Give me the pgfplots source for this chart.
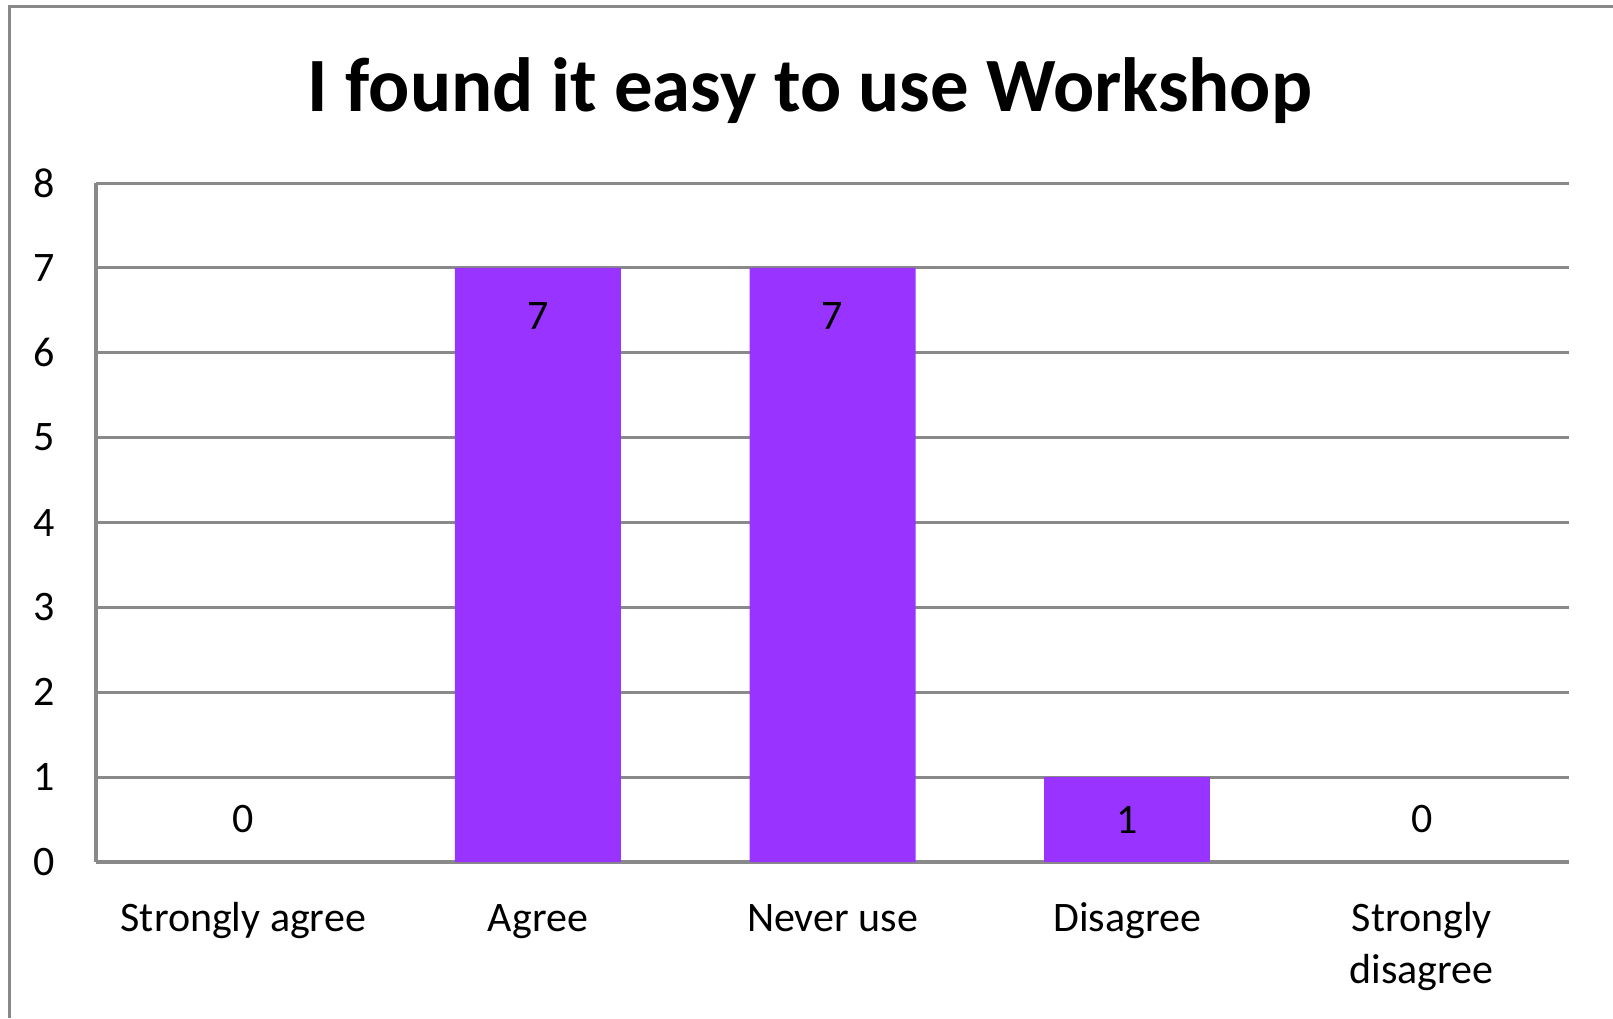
\documentclass[border=0pt]{standalone}
\usepackage{fontspec}
\setmainfont{Carlito}
\usepackage{pgfplots}
\pgfplotsset{compat=1.18}
\definecolor{gridgray}{RGB}{137,137,137}
\definecolor{barpurple}{RGB}{153,51,255}
\begin{document}
\begin{tikzpicture}
\path[use as bounding box] (0,0) rectangle (403.25pt,-254.5pt);
\draw[gridgray, line width=0.75pt] (2.25pt,-254.5pt) -- (2.25pt,-1.5pt) -- (403.25pt,-1.5pt);
\node[anchor=base, inner sep=0pt, font=\fontsize{19.2}{23}\selectfont\bfseries] at (202.5pt,-27.75pt) {I found it easy to use Workshop};
\begin{axis}[
  at={(24pt,-215.5pt)}, anchor=south west,
  scale only axis, width=368.25pt, height=169.75pt,
  xmin=-0.5, xmax=4.5, ymin=0, ymax=8,
  ytick={0,...,8}, xtick={0,...,4},
  xticklabels={Strongly agree, Agree, Never use, Disagree, {\begin{tabular}[t]{@{}c@{}}Strongly\\disagree\end{tabular}}},
  axis x line*=bottom, axis y line*=left,
  axis line style={gridgray, line width=0.85pt, -},
  ymajorgrids, grid style={gridgray, line width=0.75pt},
  major tick length=0pt,
  /pgf/number format/assume math mode=true,
  ticklabel style={font=\fontsize{10.5}{13}\selectfont, text=black},
  yticklabel style={anchor=center, xshift=-13pt},
  xticklabel style={anchor=base, yshift=-17.25pt},
  clip=false,
]
\addplot[ybar, bar width=41.5pt, bar shift=0pt, fill=barpurple, draw=none,
  nodes near coords,
  nodes near coords style={anchor=base, yshift=-15.5pt, font=\fontsize{10.5}{13}\selectfont, text=black}]
  coordinates {(1,7) (2,7)};
\addplot[ybar, bar width=41.5pt, bar shift=0pt, fill=barpurple, draw=none,
  nodes near coords,
  nodes near coords style={anchor=base, yshift=-14pt, font=\fontsize{10.5}{13}\selectfont, text=black}]
  coordinates {(3,1)};
\addplot[ybar, bar width=41.5pt, bar shift=0pt, fill=none, draw=none,
  nodes near coords,
  nodes near coords style={anchor=base, yshift=7.5pt, font=\fontsize{10.5}{13}\selectfont, text=black}]
  coordinates {(0,0) (4,0)};
\end{axis}
\end{tikzpicture}
\end{document}
